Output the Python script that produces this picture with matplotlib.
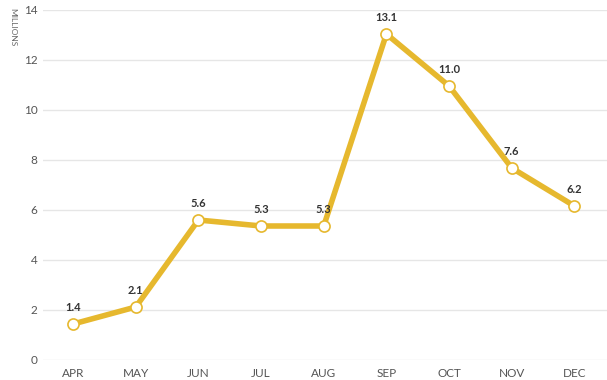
import matplotlib
matplotlib.use("Agg")
from matplotlib import pyplot as plt

months = ["APR", "MAY", "JUN", "JUL", "AUG", "SEP", "OCT", "NOV", "DEC"]
values = [1.44, 2.12, 5.6, 5.36, 5.36, 13.04, 10.96, 7.68, 6.16]
labels = ["1.4", "2.1", "5.6", "5.3", "5.3", "13.1", "11.0", "7.6", "6.2"]

plt.rcParams['font.family'] = ['Lato', 'DejaVu Sans']

fig = plt.figure(figsize=(6.07, 3.80), dpi=100)
ax = fig.add_axes([43 / 607, 1 - 360 / 380, 1 - 43 / 607, 350 / 380])

x = list(range(len(months)))
ax.plot(x, values, color="#E6B82E", lw=4, solid_capstyle="round", zorder=3)
ax.plot(x, values, ls="none", marker="o", ms=8, mfc="white", mec="#E6B82E", mew=1.2, zorder=4)

for xi, v, lab in zip(x, values, labels):
    ax.annotate(lab, (xi, v), xytext=(0, 8), textcoords="offset points",
                ha="center", va="bottom", fontsize=8, fontweight="bold", color="#333333")

ax.set_xlim(-0.48, 8.52)
ax.set_ylim(0, 14)
ax.set_yticks(range(0, 15, 2))
ax.set_xticks(x)
ax.set_xticklabels(months)
ax.grid(axis="y", color="#e6e6e6", lw=1)
ax.set_axisbelow(True)
for s in ax.spines.values():
    s.set_visible(False)
ax.tick_params(length=0, labelsize=8.5, colors="#555555")
ax.tick_params(axis="y", pad=4)
ax.tick_params(axis="x", pad=6)

fig.text(13 / 607, 1 - 27 / 380, "MILLIONS", rotation=-90, fontsize=6,
         color="#666666", ha="center", va="center")

fig.savefig("out.png", dpi=100)
